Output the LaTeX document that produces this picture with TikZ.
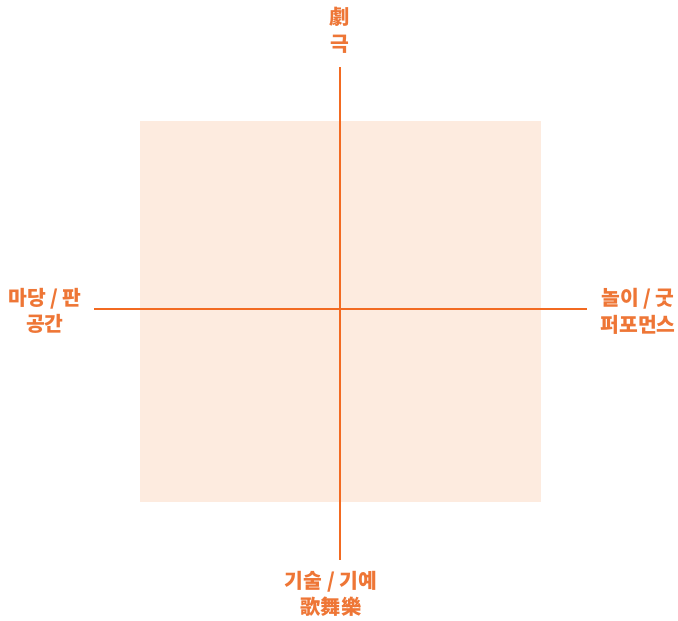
\documentclass[tikz,border=0pt]{standalone}
\usepackage{fontspec}
\setmainfont{Noto Sans CJK KR}
\usetikzlibrary{positioning}
\definecolor{axis}{HTML}{F26A21}
\definecolor{ink}{HTML}{EE7636}
\definecolor{field}{HTML}{FDEBDF}
\tikzset{
  pole/.style={font=\fontsize{14.5}{19}\selectfont\bfseries,text=ink,align=center,inner sep=0pt},
  axisline/.style={draw=axis,line width=2pt},
}
\begin{document}
\begin{tikzpicture}[x=0.025cm,y=-0.025cm]
    \useasboundingbox (0,0) rectangle (678,620);
    \fill[field] (140,121) rectangle (541,502);
    % axis ends
    \coordinate (north) at (340,67);
    \coordinate (south) at (340,560);
    \coordinate (west) at (94,309);
    \coordinate (east) at (587,309);
    \draw[axisline] (north) -- (south);
    \draw[axisline] (west) -- (east);
    % poles
    \node[pole] (drama) at (340,30) {劇\\극};
    \node[pole] (space) at (45,311) {마당 / 판\\공간};
    \node[pole] (play) at (638,311) {놀이 / 굿\\퍼포먼스};
    \node[pole] (skill) at (331,594) {기술 / 기예\\歌舞樂};
\end{tikzpicture}
\end{document}
